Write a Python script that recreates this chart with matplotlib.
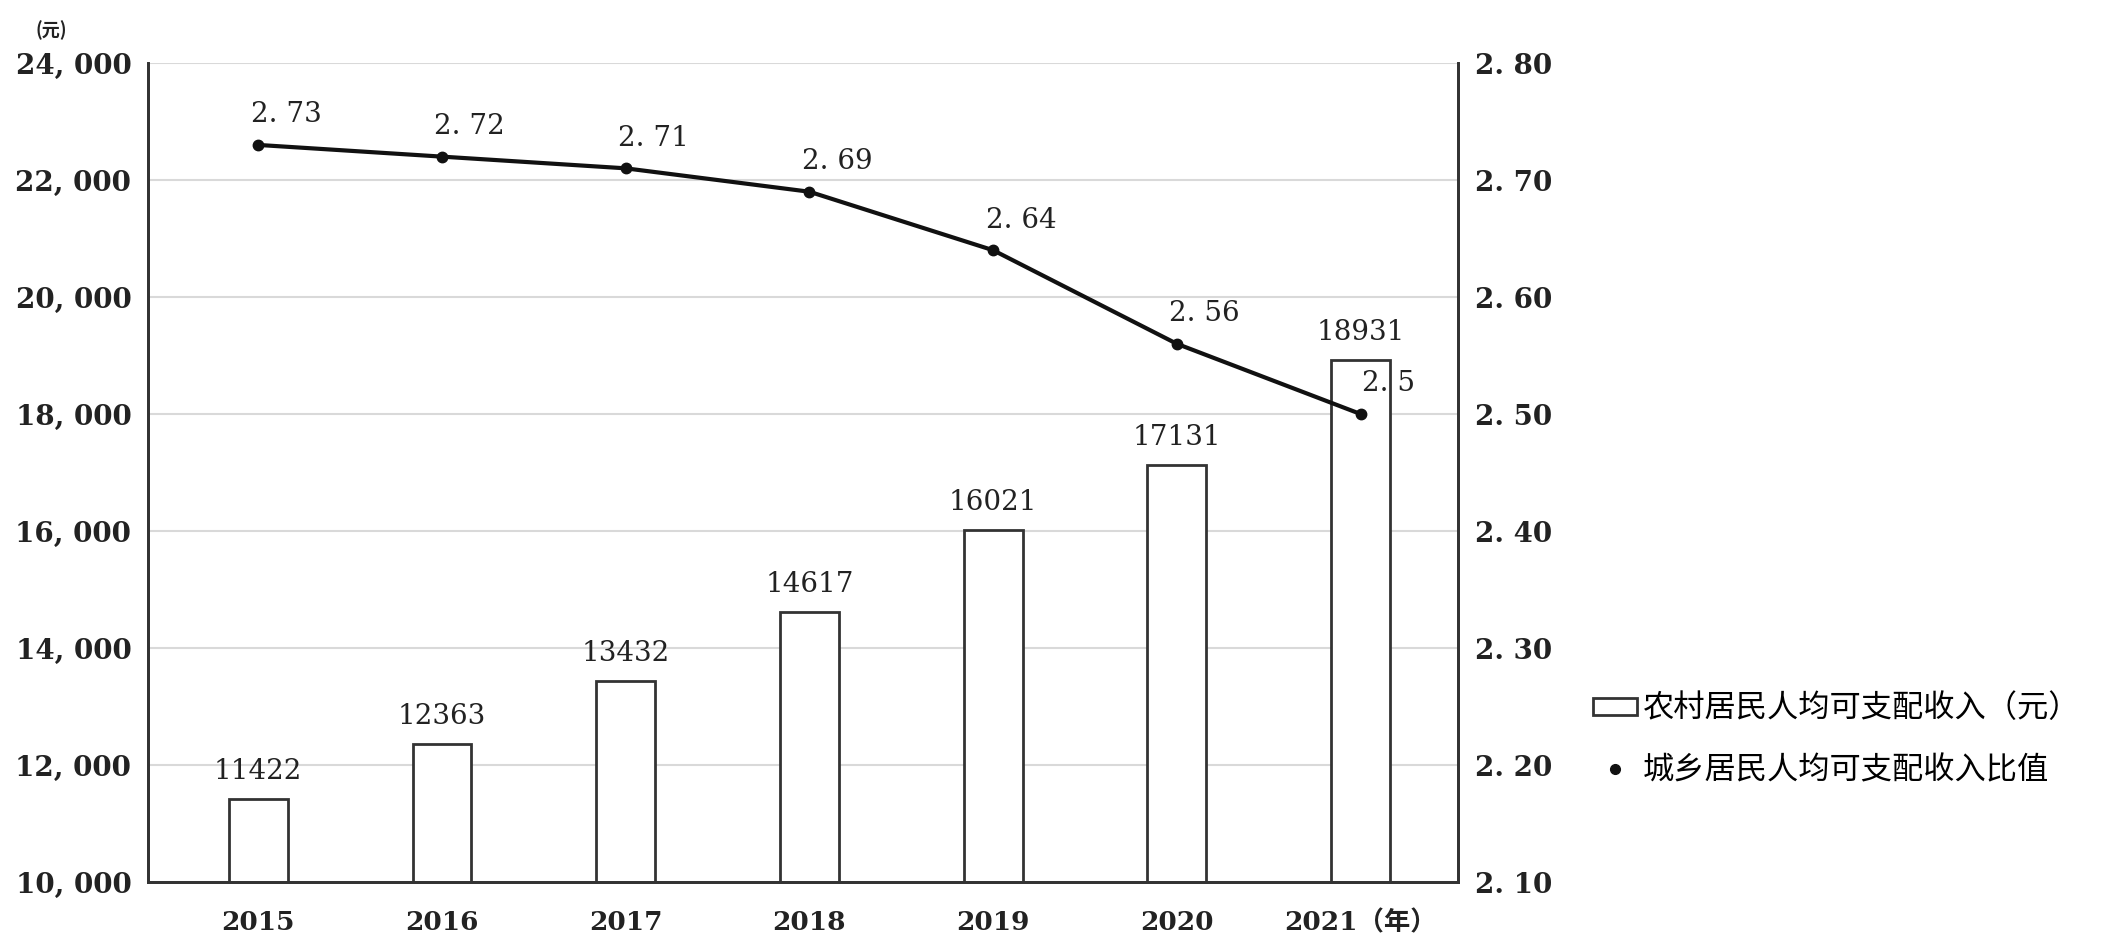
import matplotlib
matplotlib.use("Agg")
import matplotlib.pyplot as plt
from matplotlib.ticker import FuncFormatter
from matplotlib.lines import Line2D
from matplotlib.patches import Patch
import numpy as np

years = ['2015', '2016', '2017', '2018', '2019', '2020', '2021']
rural_income = [11422, 12363, 13432, 14617, 16021, 17131, 18931]
ratio = [2.73, 2.72, 2.71, 2.69, 2.64, 2.56, 2.5]
year_labels = ['2015', '2016', '2017', '2018', '2019', '2020', '2021（年）']
bar_name = '农村居民人均可支配收入（元）'
line_name = '城乡居民人均可支配收入比值'

num_font = ['DejaVu Serif', 'Noto Sans CJK SC']
cjk_font = ['Noto Sans CJK SC', 'DejaVu Sans']

fig = plt.figure(figsize=(21.17, 9.38), dpi=100, facecolor='white')
ax = fig.add_axes([0.0699, 0.0597, 0.6188, 0.8731])
ax2 = ax.twinx()

x = np.arange(len(years))
bars = ax.bar(x, [v - 10000 for v in rural_income], 0.32, bottom=10000,
              facecolor='white', edgecolor='#333333', linewidth=2, zorder=3)

ax.set_ylim(10000, 24000)
ax.set_yticks(np.arange(10000, 24001, 2000))
ax.yaxis.set_major_formatter(FuncFormatter(lambda v, p: f'{int(v):,}'.replace(',', ', ')))
ax.set_xlim(-0.6, 6.53)
ax.set_xticks(x)
ax.set_xticklabels(year_labels, family=num_font, fontsize=19, fontweight='bold', color='#222222')
ax.grid(axis='y', color='#d9d9d9', linewidth=1.5, zorder=0)
ax.set_axisbelow(True)

for xi, v in zip(x, rural_income):
    ax.annotate(str(v), (xi, v), xytext=(0, 10), textcoords='offset points',
                ha='center', va='bottom', fontsize=20, family=num_font, color='#222222')

ax2.plot(x, ratio, color='#111111', linewidth=3, marker='o', markersize=7.5, zorder=5)
for xi, v in zip(x, ratio):
    ax2.annotate(str(v).replace('.', '. '), (xi, v), xytext=(20, 12), textcoords='offset points',
                 ha='center', va='bottom', fontsize=20, family=num_font, color='#222222')

ax2.set_ylim(2.10, 2.80)
ax2.set_yticks(np.arange(2.10, 2.801, 0.10))
ax2.yaxis.set_major_formatter(FuncFormatter(lambda v, p: f'{v:.2f}'.replace('.', '. ')))

for a in (ax, ax2):
    a.tick_params(length=0, pad=12)
    for lab in a.get_yticklabels():
        lab.set_family(num_font)
        lab.set_fontsize(20)
        lab.set_fontweight('bold')
        lab.set_color('#222222')
    a.spines['top'].set_visible(False)
    for s in ('left', 'right', 'bottom'):
        a.spines[s].set_color('#333333')
        a.spines[s].set_linewidth(2)
ax.tick_params(axis='x', pad=20)

fig.text(0.017, 0.962, '(元)', family=cjk_font, fontsize=13, fontweight='bold', color='#222222')

handles = [Patch(facecolor='white', edgecolor='#333333', linewidth=2),
           Line2D([], [], color='none', marker='o', markerfacecolor='#111111',
                  markeredgecolor='#111111', markersize=7)]
fig.legend(handles, [bar_name, line_name], loc='center left',
           bbox_to_anchor=(0.748, 0.212), frameon=False, handlelength=1.4, handleheight=0.45,
           handletextpad=0.2, labelspacing=0.95, borderpad=0.1, borderaxespad=0.2,
           prop={'family': cjk_font, 'size': 22.5, 'weight': 'medium'})

fig.savefig('out.png', dpi=100, facecolor='white')
